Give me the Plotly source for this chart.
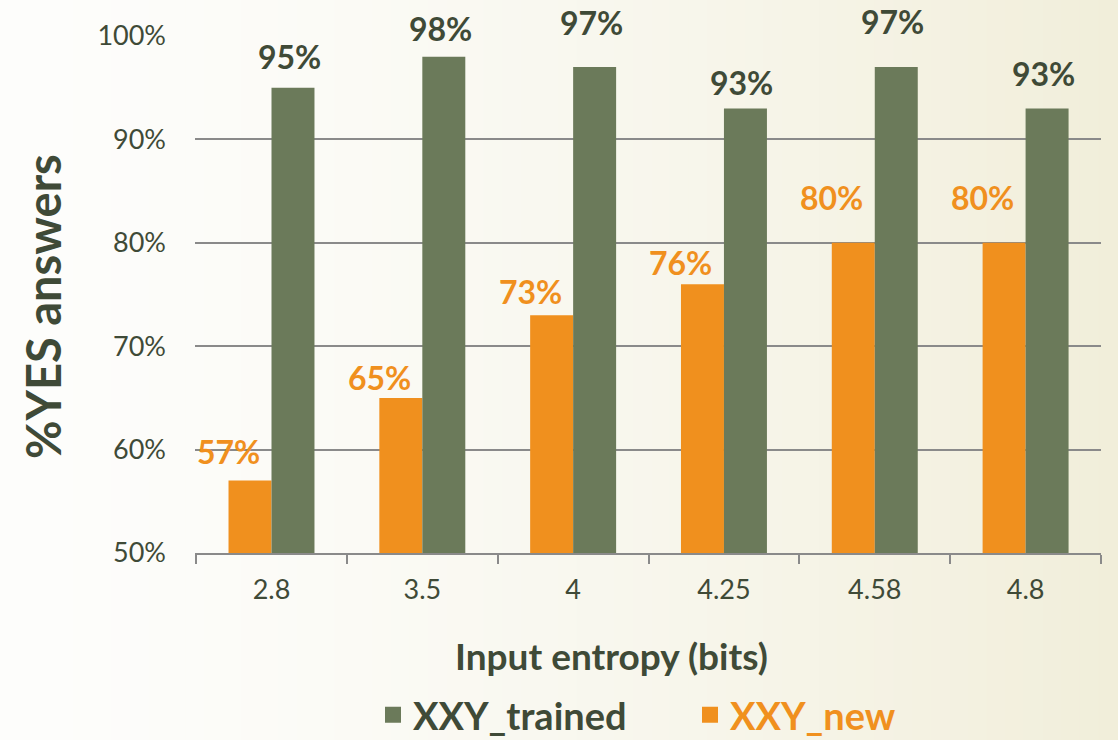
import plotly.graph_objects as go

# ---- data ----
categories = ["2.8", "3.5", "4", "4.25", "4.58", "4.8"]
xxy_new = [57, 65, 73, 76, 80, 80]
xxy_trained = [95, 98, 97, 93, 97, 93]
y_tick_vals = [50, 60, 70, 80, 90, 100]
y_tick_text = ["50%", "60%", "70%", "80%", "90%", "100%"]
x_title = "Input entropy (bits)"
y_title = "%YES answers"

# ---- style ----
GREEN = "#6b7a5a"
ORANGE = "#f0901e"
TEXT = "#3f4a37"
GRID = "#8a8a8a"
FONT = "Lato"

# label vertical offsets (px, above bar top), as placed in the original
new_label_dy = [29, 20, 24, 22, 45, 45]
trained_label_dy = [31, 28, 45, 26, 46, 35]

fig = go.Figure()

fig.add_trace(go.Bar(x=categories, y=xxy_new, name="XXY_new",
                     marker=dict(color=ORANGE, line=dict(width=0)),
                     showlegend=False, hoverinfo="x+y"))
fig.add_trace(go.Bar(x=categories, y=xxy_trained, name="XXY_trained",
                     marker=dict(color=GREEN, line=dict(width=0)),
                     showlegend=False, hoverinfo="x+y"))

# legend entries (square symbols)
fig.add_trace(go.Scatter(x=[None], y=[None], mode="markers",
                         marker=dict(symbol="square", size=20, color=GREEN),
                         name=f"<span style='color:{TEXT}'>XXY_trained</span>",
                         legendrank=1))
fig.add_trace(go.Scatter(x=[None], y=[None], mode="markers",
                         marker=dict(symbol="square", size=20, color=ORANGE),
                         name=f"<span style='color:{ORANGE}'>XXY_new</span>",
                         legendrank=2))

# data labels (x given as category index on the category axis)
for i, v in enumerate(xxy_new):
    fig.add_annotation(x=i, y=v, xref="x", yref="y", text=f"{v}%",
                       showarrow=False, xshift=-43, yshift=new_label_dy[i],
                       yanchor="middle",
                       font=dict(family=FONT, size=32, color=ORANGE, weight="bold"))
for i, v in enumerate(xxy_trained):
    fig.add_annotation(x=i, y=v, xref="x", yref="y", text=f"{v}%",
                       showarrow=False, xshift=18, yshift=trained_label_dy[i],
                       yanchor="middle",
                       font=dict(family=FONT, size=32, color=TEXT, weight="bold"))

# background gradient strips (left near-white to right cream)
L, R, T, B = 195, 1118 - 1101, 36, 740 - 553
W = 1118 - L - R
H = 740 - T - B
n = 60
c0 = (253, 253, 251)
c1 = (241, 238, 218)
for i in range(n):
    t = (i + 0.5) / n
    tt = t ** 1.5
    col = tuple(round(a + (b - a) * tt) for a, b in zip(c0, c1))
    x0 = (-L + 1118 * i / n) / W
    x1 = (-L + 1118 * (i + 1) / n) / W
    fig.add_shape(type="rect", xref="paper", yref="paper",
                  x0=x0 - 0.001, x1=x1 + 0.002, y0=-B / H - 0.02, y1=1 + T / H + 0.02,
                  fillcolor=f"rgb{col}", line=dict(width=0), layer="below")

# axis titles (placed as in the original, slightly off-centre)
fig.add_annotation(text=f"<b>{x_title}</b>", xref="paper", yref="paper",
                   x=(611 - L) / W, y=(553 - 655) / H, showarrow=False,
                   xanchor="center", yanchor="middle",
                   font=dict(family=FONT, size=37, color=TEXT))
fig.add_annotation(text=f"<b>{y_title}</b>", xref="paper", yref="paper",
                   x=(43 - L) / W, y=(553 - 307) / H, showarrow=False,
                   textangle=-90, xanchor="center", yanchor="middle",
                   font=dict(family=FONT, size=47, color=TEXT))

fig.update_layout(
    width=1118, height=740,
    margin=dict(l=L, r=R, t=T, b=B),
    paper_bgcolor="#f7f5eb",
    plot_bgcolor="rgba(0,0,0,0)",
    barmode="group", bargap=0.43, bargroupgap=0,
    font=dict(family=FONT, color=TEXT),
    xaxis=dict(
        type="category",
        showgrid=False, showline=True, linecolor=GRID, linewidth=2,
        ticks="outside", tickson="boundaries", ticklen=9, tickwidth=2, tickcolor=GRID,
        tickfont=dict(family=FONT, size=27, color=TEXT),
        ticklabelstandoff=12,
        automargin=False,
    ),
    yaxis=dict(
        range=[50, 100], tickvals=y_tick_vals, ticktext=y_tick_text,
        showgrid=True, gridcolor=GRID, gridwidth=2, zeroline=False,
        showline=False, ticks="",
        tickfont=dict(family=FONT, size=27, color=TEXT),
        ticklabelstandoff=28,
        automargin=False,
    ),
    yaxis2=dict(
        overlaying="y", side="right", range=[50, 100],
        tickvals=y_tick_vals, showticklabels=False,
        showgrid=False, zeroline=False, showline=True, linecolor=GRID, linewidth=2,
        ticks="outside", ticklen=9, tickwidth=2, tickcolor=GRID,
    ),
    legend=dict(
        orientation="h", xref="container", yref="container",
        x=690 / 1118, xanchor="center", y=1 - 715 / 740, yanchor="middle",
        font=dict(family=FONT, size=38, color=TEXT, weight="bold"),
        bgcolor="rgba(0,0,0,0)", entrywidth=272, itemsizing="trace",
    ),
    showlegend=True,
)

fig.write_html("out.html")
